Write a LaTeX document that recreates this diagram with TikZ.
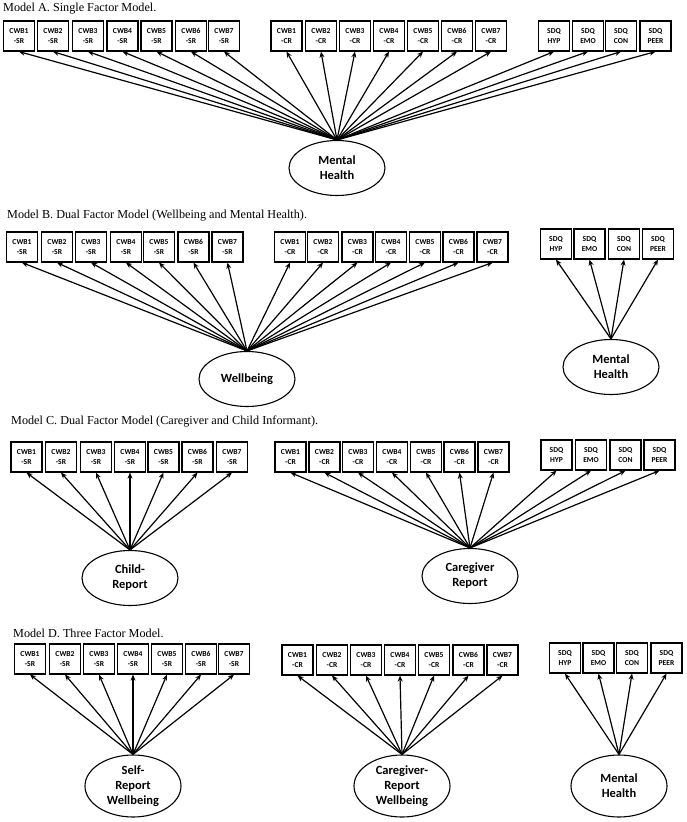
\documentclass[tikz,border=0pt]{standalone}
\usepackage{fontspec}
\setmainfont{Liberation Serif}
\newfontfamily\carlito{Carlito}
\usetikzlibrary{shapes.geometric,arrows.meta}
\tikzset{
  ind/.style  = {draw, fill=white, line width=1.2pt, minimum width=31pt,
                 minimum height=30pt, inner sep=1pt, align=center,
                 font=\carlito\bfseries\fontsize{7.6}{10.5}\selectfont},
  lat/.style  = {draw, ellipse, line width=1.1pt, minimum width=96pt,
                 minimum height=55pt, inner sep=0pt, align=center,
                 font=\carlito\bfseries\fontsize{12.5}{15}\selectfont},
  lat3/.style = {lat, minimum height=62pt},
  load/.style = {line width=1.2pt, -{Stealth[length=6pt,width=5pt]}},
  ttl/.style  = {anchor=west, inner sep=0pt, font=\fontsize{12.2}{14}\selectfont},
}

\begin{document}
\begin{tikzpicture}[x=1pt,y=-1pt]
  \useasboundingbox (0,0) rectangle (687,822);

  % Model A
  \node[ttl] (tA) at (3,9) {Model A. Single Factor Model.};
  \node[lat] (aMH) at (337,168) {Mental\\Health};
  \foreach \x [count=\i] in {19,53,88,122.5,156.5,191,224}{
    \node[ind] (aS\i) at (\x,36) {CWB\i\\-SR};
    \draw[load] (aMH.north) -- (aS\i.south);
  }
  \foreach \x [count=\i] in {286.5,321,355,389,423,457,491}{
    \node[ind] (aC\i) at (\x,36) {CWB\i\\-CR};
    \draw[load] (aMH.north) -- (aC\i.south);
  }
  \foreach \x/\t [count=\i] in {554/HYP,588/EMO,621/CON,655.5/PEER}{
    \node[ind] (aQ\i) at (\x,36) {SDQ\\\t};
    \draw[load] (aMH.north) -- (aQ\i.south);
  }

  % Model B
  \node[ttl] (tB) at (7,216) {Model B. Dual Factor Model (Wellbeing and Mental Health).};
  \node[lat] (bWB) at (247,379) {Wellbeing};
  \node[lat] (bMH) at (611,367) {Mental\\Health};
  \foreach \x [count=\i] in {22,57,91,126,159,193.5,227.5}{
    \node[ind] (bS\i) at (\x,247) {CWB\i\\-SR};
    \draw[load] (bWB.north) -- (bS\i.south);
  }
  \foreach \x [count=\i] in {290,323,357.5,391,425,458.5,492.5}{
    \node[ind] (bC\i) at (\x,247) {CWB\i\\-CR};
    \draw[load] (bWB.north) -- (bC\i.south);
  }
  \foreach \x/\t [count=\i] in {556/HYP,589.5/EMO,624/CON,658/PEER}{
    \node[ind] (bQ\i) at (\x,244) {SDQ\\\t};
    \draw[load] (bMH.north) -- (bQ\i.south);
  }

  % Model C
  \node[ttl] (tC) at (11,422) {Model C. Dual Factor Model (Caregiver and Child Informant).};
  \node[lat] (cCh) at (130,578) {Child-\\Report};
  \node[lat] (cCg) at (470,576) {Caregiver\\Report};
  \foreach \x [count=\i] in {26.5,61,96,130,163.5,197.5,232}{
    \node[ind] (cS\i) at (\x,457) {CWB\i\\-SR};
    \draw[load] (cCh.north) -- (cS\i.south);
  }
  \foreach \x [count=\i] in {290.5,324.5,358,392,426,459.5,493.5}{
    \node[ind] (cC\i) at (\x,457) {CWB\i\\-CR};
    \draw[load] (cCg.north) -- (cC\i.south);
  }
  \foreach \x/\t [count=\i] in {556.5/HYP,591/EMO,625.5/CON,659.5/PEER}{
    \node[ind] (cQ\i) at (\x,455) {SDQ\\\t};
    \draw[load] (cCg.north) -- (cQ\i.south);
  }

  % Model D
  \node[ttl] (tD) at (13,633) {Model D. Three Factor Model.};
  \node[lat3] (dSR) at (133,786) {Self-\\Report\\Wellbeing};
  \node[lat3] (dCR) at (402,786) {Caregiver-\\Report\\Wellbeing};
  \node[lat3] (dMH) at (619,786) {Mental\\Health};
  \foreach \x [count=\i] in {30,65,99,133,167,201,234}{
    \node[ind] (dS\i) at (\x,659) {CWB\i\\-SR};
    \draw[load] (dSR.north) -- (dS\i.south);
  }
  \foreach \x [count=\i] in {297.5,332,366,400,434,468.5,502.5}{
    \node[ind] (dC\i) at (\x,660) {CWB\i\\-CR};
    \draw[load] (dCR.north) -- (dC\i.south);
  }
  \foreach \x/\t [count=\i] in {565/HYP,598.5/EMO,632/CON,666.5/PEER}{
    \node[ind] (dQ\i) at (\x,658) {SDQ\\\t};
    \draw[load] (dMH.north) -- (dQ\i.south);
  }
\end{tikzpicture}
\end{document}
